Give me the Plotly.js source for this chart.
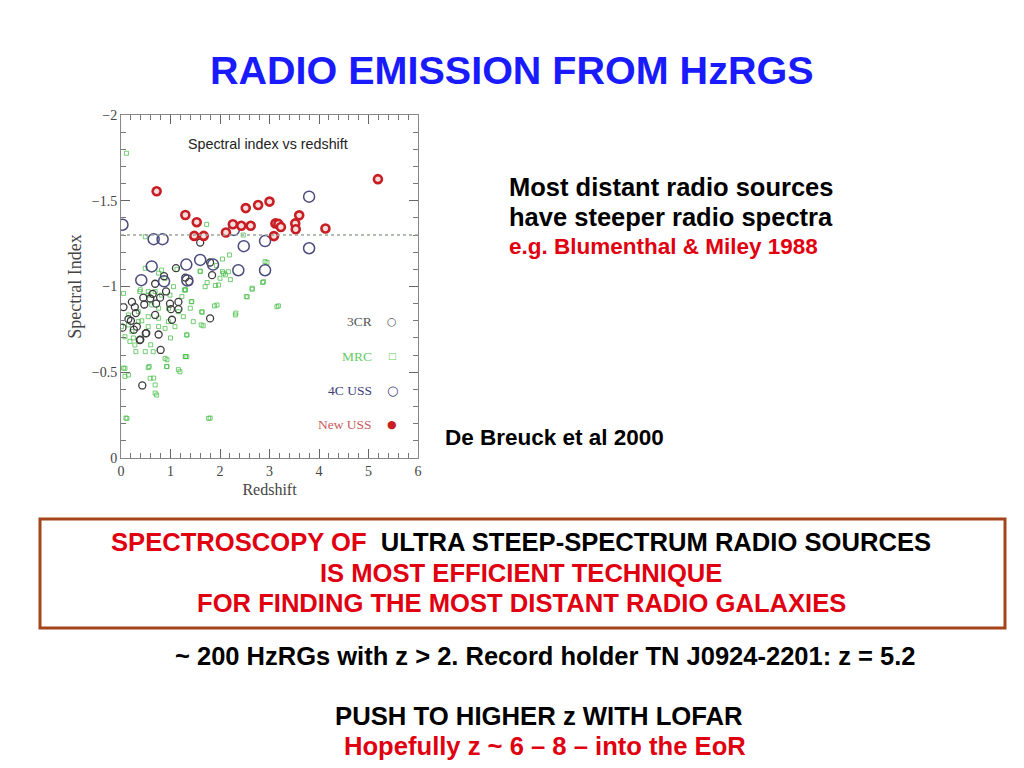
<!DOCTYPE html>
<html>
<head>
<meta charset="utf-8">
<script src="https://cdn.plot.ly/plotly-3.0.1.min.js"></script>
<style>html,body{margin:0;padding:0;background:#fff;}#chart{width:1024px;height:768px;}</style>
</head>
<body>
<div id="chart"></div>
<script>
// ---- data (redshift z, spectral index alpha) ----
const newUssZ = [0.72,1.30,1.53,1.48,1.67,2.12,2.26,2.43,2.62,2.52,2.77,3.00,3.09,3.12,3.18,3.23,3.52,3.53,3.60,4.13,5.19];
const newUssA = [-1.555,-1.417,-1.375,-1.295,-1.295,-1.315,-1.363,-1.354,-1.354,-1.457,-1.475,-1.495,-1.294,-1.368,-1.365,-1.347,-1.368,-1.334,-1.415,-1.338,-1.626];

const ussZ = [0.03,0.66,0.84,2.48,2.91,3.80,3.80,0.62,1.32,1.60,1.86,2.37,2.91,0.41,0.87,1.34,2.28];
const ussA = [-1.36,-1.276,-1.276,-1.235,-1.265,-1.524,-1.223,-1.117,-1.128,-1.155,-1.128,-1.095,-1.095,-1.037,-1.03,-1.035,-1.33];

const crZ = [0.05,0.15,0.22,0.30,0.26,0.39,0.47,0.51,0.64,0.69,0.71,0.76,0.80,0.91,0.99,1.01,1.03,1.16,1.11,1.30,1.38,1.60,1.80,1.84,1.80,0.43,0.03,0.28,0.45,0.59,0.79,1.16,0.20,0.69,0.32,0.87,0.38,0.50];
const crA = [-0.88,-0.81,-0.91,-0.845,-0.748,-0.69,-0.895,-0.728,-0.957,-1.016,-0.90,-0.72,-0.63,-0.971,-0.90,-0.868,-0.806,-0.868,-1.107,-1.052,-1.027,-1.256,-1.14,-1.066,-0.814,-0.423,-0.76,-0.88,-0.935,-0.93,-0.935,-0.91,-0.80,-0.834,-0.766,-1.06,-0.688,-0.727];

const mrcZ = [0.11,1.73,2.47,0.49,2.19,2.05,1.93,2.05,2.11,1.74,1.91,2.21,2.95,2.86,2.65,2.55,3.18,2.32,1.89,1.64,1.66,1.42,1.33,1.30,1.16,1.80,0.10,0.69,0.66,0.57,0.93,0.93,0.05,0.08,1.30,0.76,0.39,0.55,1.60,1.28,1.13,
  0.38,0.55,0.69,0.82,0.99,0.62,0.76,0.96,1.16,0.35,0.15,0.55,0.76,0.35,0.15,0.55,0.76,0.96,1.23,1.30,1.26,1.09,0.89,0.49,0.82,1.06,
  0.08,0.28,0.49,0.08,0.15,0.55,0.59,0.69,0.72,0.89,0.92,1.30,1.19,0.12,0.65,0.01,0.22,0.89,
  1.60,1.70,1.97,2.07,2.17,1.43,1.40,1.94,2.31,2.53,2.65,2.88,3.15,1.63,1.62,1.46,2.91,2.00,1.33,1.33,1.77,0.05,0.25,0.42,0.18,0.30,1.00,0.60];
const mrcA = [-1.777,-1.362,-1.30,-1.29,-1.184,-1.16,-1.122,-1.087,-1.068,-1.023,-1.006,-1.04,-1.14,-1.023,-0.984,-0.94,-0.887,-0.845,-0.887,-0.85,-0.771,-0.912,-0.718,-0.592,-0.515,-0.233,-0.233,-0.379,-0.466,-0.534,-0.573,-0.534,-0.524,-0.476,-0.981,-1.078,-0.981,-0.97,-1.087,-0.98,-1.10,
  -0.970,-0.950,-0.970,-0.950,-0.950,-0.892,-0.873,-0.873,-0.853,-0.853,-0.834,-0.824,-0.815,-0.795,-0.776,-0.766,-0.766,-0.795,-0.941,-0.980,-0.824,-0.766,-1.048,-1.106,-1.096,-0.999,
  -0.707,-0.659,-0.620,-0.523,-0.484,-0.527,-0.465,-0.426,-0.367,-0.581,-0.533,-0.591,-0.503,-0.231,-0.620,-0.766,-0.737,-0.756,
  -1.09,-0.999,-1.009,-1.077,-1.086,-0.911,-0.873,-0.892,-0.834,-0.941,-0.99,-1.028,-0.882,-0.853,-0.776,-0.795,-1.145,-1.048,-0.717,-0.591,-0.231,-0.96,-0.70,-0.80,-0.68,-0.62,-0.70,-0.66];

const ussCut = -1.3;
const xTicks = [0,1,2,3,4,5,6];
const yTicks = [0,-0.5,-1,-1.5,-2];

const legendItems = [
  {label:'3CR', sym:'○', color:'#555555'},
  {label:'MRC', sym:'□', color:'#66cc66'},
  {label:'4C USS', sym:'○', color:'#3c3c78'},
  {label:'New USS', sym:'●', color:'#c85a5a'}
];

const traces = [
  {x: mrcZ, y: mrcA, mode:'markers', type:'scatter', name:'MRC',
   marker:{symbol:'square-open', size:4, color:'rgba(70,190,70,0.75)', line:{width:1}}},
  {x: crZ, y: crA, mode:'markers', type:'scatter', name:'3CR',
   marker:{symbol:'circle-open', size:7, color:'#3a3a3a', line:{width:1.3}}},
  {x: ussZ, y: ussA, mode:'markers', type:'scatter', name:'4C USS',
   marker:{symbol:'circle-open', size:11, color:'#4a4a7e', line:{width:1.5}}},
  {x: newUssZ, y: newUssA, mode:'markers', type:'scatter', name:'New USS',
   marker:{symbol:'circle', size:8, color:'#f4dede', line:{width:2.6, color:'#c81e23'}}}
];

const ann = [];
const big = (text, x, y, size, color, anchor) => ann.push({xref:'paper', yref:'paper', x: x/1024, y: 1 - y/768,
  text, showarrow:false, xanchor: anchor || 'center', yanchor:'middle',
  font:{family:'Liberation Sans, Arial, sans-serif', size, color}});

big('<b>RADIO EMISSION FROM HzRGS</b>', 512, 70, 39.5, '#1a1aff');
big('<b>Most distant radio sources</b>', 507, 187, 25.5, '#000', 'left');
big('<b>have steeper radio spectra</b>', 507, 217, 25.5, '#000', 'left');
big('<b>e.g. Blumenthal &amp; Miley 1988</b>', 507, 246, 22.5, '#e00010', 'left');
big('<b>De Breuck et al 2000</b>', 443, 437, 22.5, '#000', 'left');
big('<b><span style="color:#e00010">SPECTROSCOPY OF  </span>ULTRA STEEP-SPECTRUM RADIO SOURCES</b>', 521, 542, 25.6, '#000');
big('<b>IS MOST EFFICIENT TECHNIQUE</b>', 521, 573, 25.6, '#e00010');
big('<b>FOR FINDING THE MOST DISTANT RADIO GALAXIES</b>', 521, 603, 25.6, '#e00010');
big('<b>~ 200 HzRGs with z &gt; 2. Record holder TN J0924-2201: z = 5.2</b>', 545, 656, 25.5, '#000');
big('<b>PUSH TO HIGHER z WITH LOFAR</b>', 539, 716, 25.7, '#000');
big('<b>Hopefully z ~ 6 – 8 – into the EoR</b>', 545, 746, 25.6, '#e00010');

// plot-internal title and legend
ann.push({xref:'paper', yref:'paper', x: 268/1024, y: 1-144/768, xanchor:'center', yanchor:'middle',
  text:'Spectral index vs redshift', showarrow:false,
  font:{family:'Liberation Sans, Arial, sans-serif', size:14.3, color:'#222'}});
legendItems.forEach((it, i) => {
  const yy = 322 + i*34;
  ann.push({xref:'paper', yref:'paper', x: 374/1024, y: 1-yy/768, xanchor:'right', yanchor:'middle', text: it.label, showarrow:false,
    font:{family:'Liberation Serif, Times New Roman, serif', size:13.5, color: it.color}});
  ann.push({xref:'paper', yref:'paper', x: 392/1024, y: 1-yy/768, xanchor:'center', yanchor:'middle', text: it.sym, showarrow:false,
    font:{family:'DejaVu Sans, sans-serif', size: it.label==='MRC'?9:(it.label==='4C USS'?13:11), color: it.label==='New USS'?'#c81e23':it.color}});
});

const axisCommon = {
  showgrid:false, zeroline:false, showline:true, linecolor:'#888', linewidth:1, mirror:'ticks',
  ticks:'inside', ticklen:9, tickcolor:'#666', tickwidth:1,
  tickfont:{family:'Liberation Serif, Times New Roman, serif', size:14, color:'#444'}
};

const layout = {
  width:1024, height:768, margin:{l:0,r:0,t:0,b:0}, paper_bgcolor:'#fff', plot_bgcolor:'#fff',
  showlegend:false,
  xaxis: Object.assign({}, axisCommon, {domain:[121/1024, 418/1024], range:[0,6], tickvals:xTicks,
    minor:{dtick:0.2, ticks:'inside', ticklen:5, tickcolor:'#777'},
    title:{text:'Redshift', standoff:6, font:{family:'Liberation Serif, Times New Roman, serif', size:16, color:'#444'}}}),
  yaxis: Object.assign({}, axisCommon, {domain:[1-458/768, 1-115/768], range:[0,-2], tickvals:yTicks,
    minor:{dtick:0.1, ticks:'inside', ticklen:5, tickcolor:'#777'},
    title:{text:'Spectral Index', standoff:5, font:{family:'Liberation Serif, Times New Roman, serif', size:18, color:'#444'}}}),
  shapes:[
    {type:'line', xref:'paper', x0:121/1024, x1:418/1024, yref:'y', y0:ussCut, y1:ussCut,
     line:{color:'#9aa89a', width:1.6, dash:'dot'}},
    {type:'rect', xref:'paper', yref:'paper', x0:40/1024, x1:1005/1024, y0:1-628/768, y1:1-519/768,
     line:{color:'#a3441b', width:3}}
  ],
  annotations: ann
};

Plotly.newPlot('chart', traces, layout, {displayModeBar:false, staticPlot:true});
</script>
</body>
</html>
